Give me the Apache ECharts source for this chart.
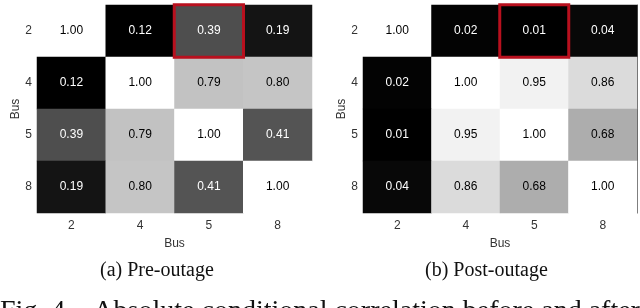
<!DOCTYPE html>
<html><head><meta charset="utf-8">
<script src="https://cdn.jsdelivr.net/npm/echarts@6/dist/echarts.min.js"></script>
<style>html,body{margin:0;padding:0;background:#fff}#c{width:640px;height:308px}</style>
</head><body><div id="c"></div>
<script>
const buses = ['2', '4', '5', '8'];
const preValues = [
  [1.00, 0.12, 0.39, 0.19],
  [0.12, 1.00, 0.79, 0.80],
  [0.39, 0.79, 1.00, 0.41],
  [0.19, 0.80, 0.41, 1.00]
];
const postValues = [
  [1.00, 0.02, 0.01, 0.04],
  [0.02, 1.00, 0.95, 0.86],
  [0.01, 0.95, 1.00, 0.68],
  [0.04, 0.86, 0.68, 1.00]
];
const highlightCell = [2, 0]; // column Bus 5, row Bus 2
const axisName = 'Bus';
const captionA = '(a) Pre-outage';
const captionB = '(b) Post-outage';
const figCaption = 'Fig. 4.   Absolute conditional correlation before and after';

function buildData(vals, min, max) {
  const out = [];
  let hl = null;
  for (let r = 0; r < vals.length; r++) {
    for (let c = 0; c < vals[r].length; c++) {
      const v = vals[r][c];
      const t = (v - min) / (max - min);
      const item = {value: [c, r, v], label: {color: t < 0.5 ? '#fff' : '#000'}};
      if (c === highlightCell[0] && r === highlightCell[1]) {
        item.itemStyle = {borderColor: '#b8101e', borderWidth: 3};
        hl = item;
      } else out.push(item);
    }
  }
  out.push(hl);
  return out;
}
const minOf = a => Math.min(...a.flat());
const maxOf = a => Math.max(...a.flat());

const sans = 'Liberation Sans, Arial, sans-serif';
const tickFont = {fontFamily: sans, fontSize: 12, color: '#333'};
function xAx(i) {
  return {type: 'category', gridIndex: i, data: buses, position: 'bottom',
    axisLine: {show: false}, axisTick: {show: false},
    axisLabel: Object.assign({margin: 7}, tickFont),
    splitLine: {show: false},
    name: axisName, nameLocation: 'middle', nameGap: 25,
    nameTextStyle: {fontFamily: sans, fontSize: 12, color: '#333'}};
}
function yAx(i) {
  return {type: 'category', gridIndex: i, data: buses, inverse: true,
    axisLine: {show: false}, axisTick: {show: false},
    axisLabel: Object.assign({margin: 5}, tickFont),
    name: axisName, nameLocation: 'middle', nameGap: 12, nameRotate: 90,
    nameTextStyle: {fontFamily: sans, fontSize: 12, color: '#333'}};
}
const cellLabel = {show: true, fontFamily: sans, fontSize: 12,
  formatter: p => p.value[2].toFixed(2)};
const serif = '"Liberation Serif", "Times New Roman", serif';

const chart = echarts.init(document.getElementById('c'), null, {renderer: 'canvas'});
chart.setOption({
  animation: false,
  backgroundColor: '#fff',
  grid: [
    {left: 37, width: 275, top: 5, height: 208},
    {left: 363, width: 274, top: 5, height: 208}
  ],
  xAxis: [xAx(0), xAx(1)],
  yAxis: [yAx(0), yAx(1),
    {type: 'category', gridIndex: 1, data: buses, inverse: true, position: 'right',
     axisLine: {show: true, lineStyle: {color: '#555', width: 1}},
     axisTick: {show: false}, axisLabel: {show: false}, splitLine: {show: false}}],
  visualMap: [
    {show: false, seriesIndex: 0, min: minOf(preValues), max: maxOf(preValues), inRange: {color: ['#000000', '#ffffff']}},
    {show: false, seriesIndex: 1, min: minOf(postValues), max: maxOf(postValues), inRange: {color: ['#000000', '#ffffff']}}
  ],
  series: [
    {type: 'heatmap', xAxisIndex: 0, yAxisIndex: 0, data: buildData(preValues, minOf(preValues), maxOf(preValues)), label: cellLabel},
    {type: 'heatmap', xAxisIndex: 1, yAxisIndex: 1, data: buildData(postValues, minOf(postValues), maxOf(postValues)), label: cellLabel}
  ],
  graphic: [
    {type: 'text', left: 100, top: 261, style: {text: captionA, font: '20px ' + serif, fill: '#111'}},
    {type: 'text', left: 425, top: 261, style: {text: captionB, font: '20px ' + serif, fill: '#111'}},
    {type: 'text', left: 0, top: 298, style: {text: figCaption, font: '28px ' + serif, fill: '#111'}}
  ]
});
</script></body></html>
